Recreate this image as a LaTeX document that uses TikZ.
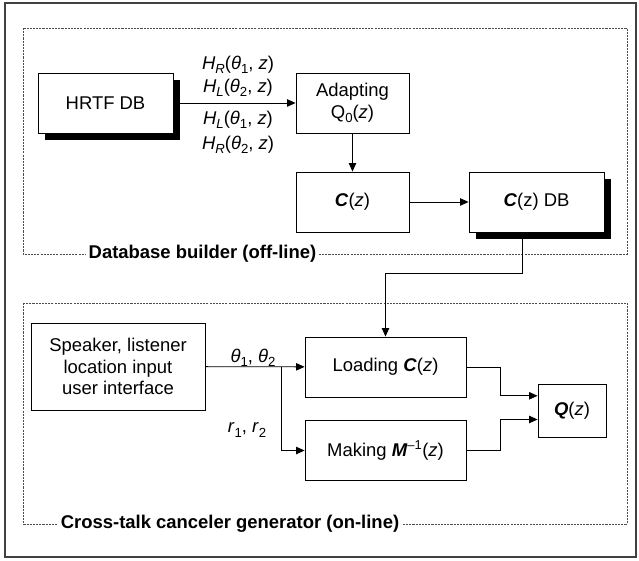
\documentclass[tikz,border=0pt]{standalone}
\usepackage{fontspec}
\setmainfont{Liberation Sans}
\usetikzlibrary{arrows.meta,shadows,calc}
\newcommand{\diagfont}{\fontsize{17.5}{20.5}\selectfont}
\newcommand{\lowsub}[1]{\raisebox{-0.45ex}{\fontsize{12.5}{14}\selectfont #1}}

\begin{document}
\begin{tikzpicture}[
            font=\diagfont,
            blk/.style={draw=black,fill=white,line width=0.8pt,minimum height=2cm,align=center,inner sep=2pt},
            shd/.style={drop shadow={shadow xshift=0.23cm,shadow yshift=-0.23cm,fill=black,opacity=1}},
            arr/.style={-{Triangle[length=8pt,width=7pt]},line width=0.8pt},
            grp/.style={draw=black!70,dash pattern=on 2pt off 1pt,line width=0.7pt},
            grplbl/.style={fill=white,inner sep=3pt,font=\diagfont\bfseries}
        ]
            \useasboundingbox (0,0) rectangle (21.3,-18.667);
            \draw[black!75,line width=1.2pt](0.167,-0.1) rectangle (21.2,-18.567);

            \draw[grp](0.767,-0.933) rectangle (20.9,-8.467);
            \draw[grp](0.767,-10.1) rectangle (20.9,-17.467);
            \node[grplbl] (dblbl) at (6.75,-8.467){Database builder (off-line)};
            \node[grplbl] (ctlbl) at (7.667,-17.467){Cross-talk canceler generator (on-line)};

            \node[blk,shd,minimum width=4.5cm] (hrtf) at (3.517,-3.433){HRTF DB};
            \node[blk,minimum width=3.767cm] (adapt) at (11.75,-3.433){Adapting\\Q\lowsub{0}(\textit{z})};
            \node[blk,minimum width=3.767cm] (cz) at (11.75,-6.733){\textbf{\textit{C}}(\textit{z})};
            \node[blk,shd,minimum width=4.5cm] (czdb) at (17.883,-6.733){\textbf{\textit{C}}(z) DB};

            \node at (7.933,-2.167){\textit{H}\lowsub{\textit{R}}(\textit{θ}\lowsub{1}, \textit{z})};
            \node at (7.933,-2.933){\textit{H}\lowsub{\textit{L}}(\textit{θ}\lowsub{2}, \textit{z})};
            \node at (7.933,-4.0){\textit{H}\lowsub{\textit{L}}(\textit{θ}\lowsub{1}, \textit{z})};
            \node at (7.933,-4.833){\textit{H}\lowsub{\textit{R}}(\textit{θ}\lowsub{2}, \textit{z})};

            \node[blk,minimum width=5.8cm,minimum height=2.9cm] (spk) at (3.933,-12.217){Speaker, listener\\location input\\user interface};
            \node[blk,minimum width=5.367cm] (load) at (12.85,-12.233){Loading \textbf{\textit{C}}(\textit{z})};
            \node[blk,minimum width=5.367cm] (make) at (12.85,-15.017){Making \textbf{\textit{M}}\textsuperscript{–1}(\textit{z})};
            \node[blk,minimum width=2.267cm,minimum height=1.767cm] (q) at (19.067,-13.683){\textbf{\textit{Q}}(\textit{z})};

            \node at (8.433,-11.933){\textit{θ}\lowsub{1}, \textit{θ}\lowsub{2}};
            \node at (8.233,-14.333){\textit{r}\lowsub{1}, \textit{r}\lowsub{2}};

            \coordinate (br) at (9.367,-12.217);
            \coordinate (jn) at (16.667,-13.7);
            \coordinate (qa) at ($(q.west)+(0,0.49)$);
            \coordinate (qb) at ($(q.west)+(0,-0.3)$);

            \draw[arr](hrtf) -- (adapt);
            \draw[arr](adapt) -- (cz);
            \draw[arr](cz) -- (czdb);
            \draw[arr]([xshift=-0.48cm,yshift=-0.23cm]czdb.south) -- ++(0,-1.13) -| (load.north);
            \draw[arr](spk) -- (load);
            \draw[arr](br) |- (make.west);
            \draw[arr](load.east) -| (jn |- qa) -- (qa);
            \draw[arr](make.east) -| (jn |- qb) -- (qb);
        \end{tikzpicture}
\end{document}
